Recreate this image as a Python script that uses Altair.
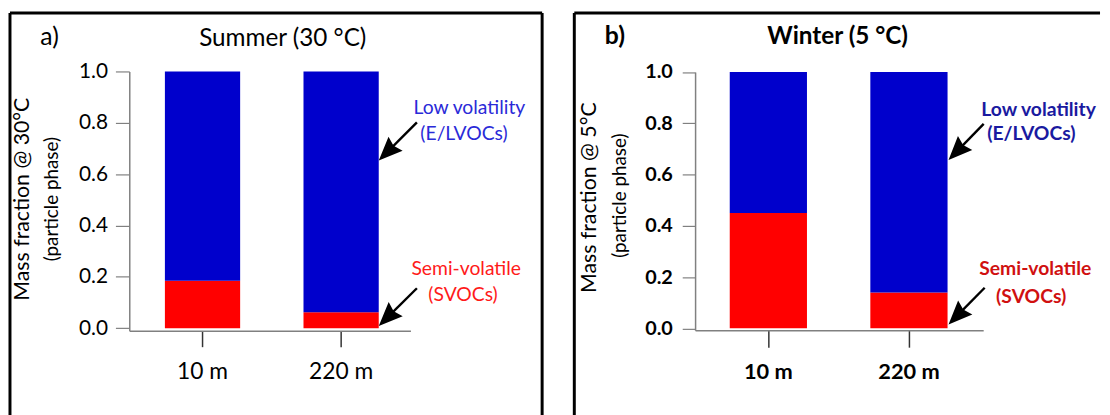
import math
import altair as alt
import pandas as pd

FONT = "Lato"

# ---------------- data ----------------
sites = ["10 m", "220 m"]
components = ["Semi-volatile (SVOCs)", "Low volatility (E/LVOCs)"]
summer_svoc = [0.185, 0.062]
summer_lvoc = [0.815, 0.938]
winter_svoc = [0.45, 0.14]
winter_lvoc = [0.55, 0.86]
y_ticks = [0.0, 0.2, 0.4, 0.6, 0.8, 1.0]
bar_colors = ["#ff0000", "#0000cc"]


def bars_df(svoc, lvoc):
    rows = []
    for s, a, b in zip(sites, svoc, lvoc):
        rows.append({"site": s, "component": components[0], "fraction": a, "ord": 0})
        rows.append({"site": s, "component": components[1], "fraction": b, "ord": 1})
    return pd.DataFrame(rows)


one = pd.DataFrame({"k": [0]})


def txt(s, x, y, size, weight="normal", color="black", align="center", angle=0):
    kw = dict(text=s, fontSize=size, fontWeight=weight, color=color, align=align,
              baseline="middle", font=FONT)
    if angle:
        kw["angle"] = angle
    return alt.Chart(one).mark_text(**kw).encode(x=alt.value(x), y=alt.value(y))


def rule(x1, y1, x2, y2, color="black", width=3):
    return alt.Chart(one).mark_rule(color=color, strokeWidth=width).encode(
        x=alt.value(x1), x2=alt.value(x2), y=alt.value(y1), y2=alt.value(y2))


def arrow(tail, tip, head_len=24, half_w=0.42):
    dx, dy = tip[0] - tail[0], tip[1] - tail[1]
    L = math.hypot(dx, dy)
    ux, uy = dx / L, dy / L
    bx, by = tip[0] - ux * head_len * 0.8, tip[1] - uy * head_len * 0.8
    ang = math.degrees(math.atan2(dx, -dy)) % 360
    line = rule(tail[0], tail[1], bx, by, width=2.4)
    shape = f"M0,0L{half_w},1L0,0.88L-{half_w},1Z"
    head = alt.Chart(one).mark_point(
        shape=shape, filled=True, color="black", opacity=1, strokeWidth=0,
        size=(2 * head_len) ** 2, angle=ang).encode(x=alt.value(tip[0]), y=alt.value(tip[1]))
    return [line, head]


def panel(df, p):
    W, H = p["W"], p["H"]
    wt = p["weight"]
    x_scale = alt.Scale(domain=sites, range=p["xrange"], paddingInner=p["pi"],
                        paddingOuter=p["po"], align=p["align"], round=False)
    y_scale = alt.Scale(domain=p["ydomain"], range=p["yrange"], nice=False, zero=False)
    bars = alt.Chart(df).mark_bar().encode(
        x=alt.X("site:N", scale=x_scale, sort=sites,
                axis=alt.Axis(title=None, labelAngle=0, offset=p["xoff"], tickSize=p["xtick"],
                              tickColor="#333333", tickWidth=1.5, domainColor="#808080",
                              domainWidth=1.5, labelFont=FONT, labelFontSize=p["xlab"],
                              labelFontWeight=wt, labelColor="black",
                              labelPadding=p["xpad"], grid=False)),
        y=alt.Y("fraction:Q", stack="zero", scale=y_scale,
                axis=alt.Axis(title=None, values=y_ticks, format=".1f", offset=p["yoff"],
                              tickSize=p["ytick"], tickColor="#808080", tickWidth=1.2,
                              domainColor="#808080", domainWidth=1.5, labelFont=FONT,
                              labelFontSize=p["ylab"], labelFontWeight=wt,
                              labelColor="black", labelPadding=p["ypad"], grid=False)),
        color=alt.Color("component:N", scale=alt.Scale(domain=components, range=bar_colors),
                        legend=None),
        order=alt.Order("ord:Q"),
    )
    layers = [bars]
    layers += p["frame"]
    layers += [
        txt(p["letter"], *p["letter_xy"], 25, weight=wt),
        txt(p["title"], *p["title_xy"], 24.5, weight=wt),
        txt(p["ytitle"], *p["ytitle_xy"], 21.5, angle=270),
        txt("(particle phase)", *p["ysub_xy"], 19, angle=270),
        txt("Low volatility", *p["lv1"], 19.5, weight=wt, color=p["blue_txt"], align="left"),
        txt("(E/LVOCs)", *p["lv2"], 19.5, weight=wt, color=p["blue_txt"], align="left"),
        txt("Semi-volatile", *p["sv1"], 19.5, weight=wt, color=p["red_txt"], align="left"),
        txt("(SVOCs)", *p["sv2"], 19.5, weight=wt, color=p["red_txt"], align="left"),
    ]
    layers += arrow(*p["arrow_lv"])
    layers += arrow(*p["arrow_sv"])
    return alt.layer(*layers).properties(width=W, height=H)


H = 410
Wa = 537.5
Wb = 531

pa = dict(
    W=Wa, H=H, weight="normal",
    xrange=[120.5, 404.5], pi=0.4571, po=0.2429, align=0.529,
    ydomain=[-0.0104, 1.0], yrange=[321, 59],
    xoff=321 - H, yoff=-120.5, xtick=16, ytick=14, xlab=23, ylab=21, xpad=14, ypad=8,
    frame=[rule(0, -1.5, 10, -1.5, color="white"),
           rule(0, 0, Wa, 0), rule(0, 0, 0, H), rule(Wa, 0, Wa, H)],
    letter="a)", letter_xy=(40, 24),
    title="Summer (30 °C)", title_xy=(275.5, 26),
    ytitle="Mass fraction @ 30°C", ytitle_xy=(13.5, 188), ysub_xy=(42.5, 188),
    lv1=(407.5, 96), lv2=(414.5, 122), sv1=(405.5, 259), sv2=(422.5, 285),
    blue_txt="#2a2ad8", red_txt="#ff1a1a",
    arrow_lv=((411, 110.5), (372.5, 149)), arrow_sv=((411, 278), (372.5, 316)),
)

pb = dict(
    W=Wb, H=H, weight="bold",
    xrange=[122, 413], pi=0.4507, po=0.25, align=0.493,
    ydomain=[-0.0077, 1.0], yrange=[320.5, 59.5],
    xoff=320.5 - H, yoff=-122, xtick=17, ytick=13, xlab=22, ylab=20, xpad=15, ypad=10,
    frame=[rule(0, 0, Wb, 0), rule(0, 0, 0, H)],
    letter="b)", letter_xy=(41, 23.5),
    title="Winter (5 °C)", title_xy=(266, 24.5),
    ytitle="Mass fraction @ 5°C", ytitle_xy=(16, 186.5), ysub_xy=(46, 184.5),
    lv1=(411, 97.5), lv2=(417, 122.5), sv1=(409, 258.5), sv2=(426, 287),
    blue_txt="#1a1aa0", red_txt="#d01010",
    arrow_lv=((413.5, 112), (378, 148.5)), arrow_sv=((414.5, 277.5), (378, 314.5)),
)

chart = alt.hconcat(
    panel(bars_df(summer_svoc, summer_lvoc), pa),
    panel(bars_df(winter_svoc, winter_lvoc), pb),
    spacing=29,
).properties(padding=0).configure_view(strokeWidth=0)

chart.save("out.html", embed_options={"renderer": "svg", "actions": False})
